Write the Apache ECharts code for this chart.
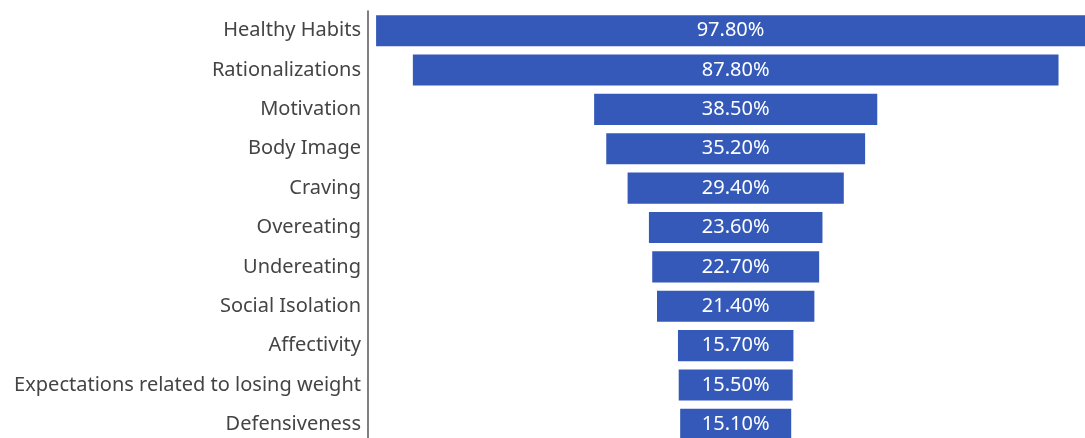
<!DOCTYPE html>
<html>
<head>
<meta charset="utf-8">
<script src="https://cdn.jsdelivr.net/npm/echarts@6/dist/echarts.min.js"></script>
<style>html,body{margin:0;padding:0;background:#fff;overflow:hidden;width:1085px;height:438px;}#c{width:1085px;height:444px;}</style>
</head>
<body>
<div id="c"></div>
<script>
var categories = ["Healthy Habits","Rationalizations","Motivation","Body Image","Craving","Overeating","Undereating","Social Isolation","Affectivity","Expectations related to losing weight","Defensiveness"];
var values = [97.8, 87.8, 38.5, 35.2, 29.4, 23.6, 22.7, 21.4, 15.7, 15.5, 15.1];
var center = 50;
var offsets = values.map(function(v){ return center - v / 2; });

var chart = echarts.init(document.getElementById('c'), null, {renderer:'canvas'});
chart.setOption({
  animation: false,
  grid: {left: 368, right: 0, top: 11, bottom: 0, containLabel: false},
  xAxis: {type: 'value', min: 0, max: 97.5, show: false},
  yAxis: {
    type: 'category', data: categories, inverse: true,
    axisLine: {show: true, lineStyle: {color: '#555', width: 1.5}},
    axisTick: {show: false},
    axisLabel: {color: '#444', fontSize: 20, fontFamily: 'Noto Sans', margin: 7}
  },
  series: [
    {type: 'bar', stack: 's', data: offsets, itemStyle: {color: 'transparent'}, barCategoryGap: '21%', silent: true},
    {type: 'bar', stack: 's', data: values, barCategoryGap: '21%',
     itemStyle: {color: '#3559b8'},
     label: {show: true, position: 'inside', color: '#fff', fontSize: 20, fontFamily: 'Noto Sans',
       formatter: function(p){ return p.value.toFixed(2) + '%'; }}}
  ]
});
</script>
</body>
</html>
